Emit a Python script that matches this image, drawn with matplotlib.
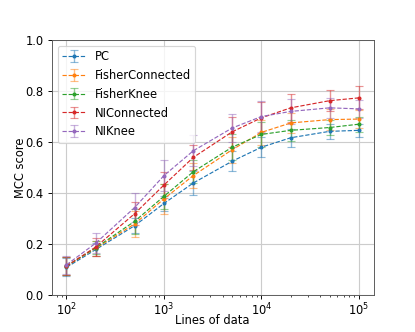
import numpy as np
import matplotlib
matplotlib.use("Agg")
import matplotlib.pyplot as plt

lines = [100, 200, 500, 1000, 2000, 5000, 10000, 20000, 50000, 100000]
names = ["PC", "FisherConnected", "FisherKnee", "NIConnected", "NIKnee"]

pc = [0.11, 0.18, 0.273, 0.36, 0.44, 0.525, 0.58, 0.617, 0.642, 0.646]
fisher_conn = [0.115, 0.185, 0.28, 0.378, 0.469, 0.57, 0.638, 0.675, 0.688, 0.69]
fisher_knee = [0.115, 0.187, 0.29, 0.388, 0.484, 0.58, 0.63, 0.646, 0.657, 0.67]
ni_conn = [0.115, 0.19, 0.32, 0.432, 0.54, 0.64, 0.695, 0.734, 0.762, 0.773]
ni_knee = [0.12, 0.205, 0.344, 0.469, 0.566, 0.655, 0.70, 0.72, 0.734, 0.73]

pc_err = [0.035, 0.025, 0.03, 0.03, 0.045, 0.04, 0.04, 0.035, 0.03, 0.025]
fisher_conn_err = [0.035, 0.03, 0.05, 0.06, 0.05, 0.05, 0.05, 0.04, 0.04, 0.035]
fisher_knee_err = [0.035, 0.025, 0.05, 0.05, 0.045, 0.05, 0.05, 0.04, 0.03, 0.03]
ni_conn_err = [0.035, 0.035, 0.045, 0.05, 0.05, 0.06, 0.06, 0.055, 0.04, 0.045]
ni_knee_err = [0.035, 0.04, 0.055, 0.06, 0.06, 0.055, 0.06, 0.05, 0.04, 0.035]

means = [pc, fisher_conn, fisher_knee, ni_conn, ni_knee]
errs = [pc_err, fisher_conn_err, fisher_knee_err, ni_conn_err, ni_knee_err]

fig, ax = plt.subplots(figsize=(5, 4), dpi=83)

for name, m, e in zip(names, means, errs):
    eb = ax.errorbar(lines, m, yerr=e, fmt='.--', lw=1, ms=5, capsize=3.5,
                     elinewidth=1.2, label=name)
    for c in eb[1]:
        c.set_alpha(0.5)
    for c in eb[2]:
        c.set_alpha(0.5)

ax.set_xscale('log')
ax.set_ylim(0, 1)
ax.set_xlabel('Lines of data', labelpad=-4)
ax.set_ylabel('MCC score', labelpad=-1)
ax.tick_params(axis='x', pad=2)
ax.grid(True, color='#cccccc', lw=1)
ax.set_axisbelow(True)
for s in ax.spines.values():
    s.set_color('#555555')
ax.legend(loc='upper left')

fig.savefig('out.png', dpi=83)
